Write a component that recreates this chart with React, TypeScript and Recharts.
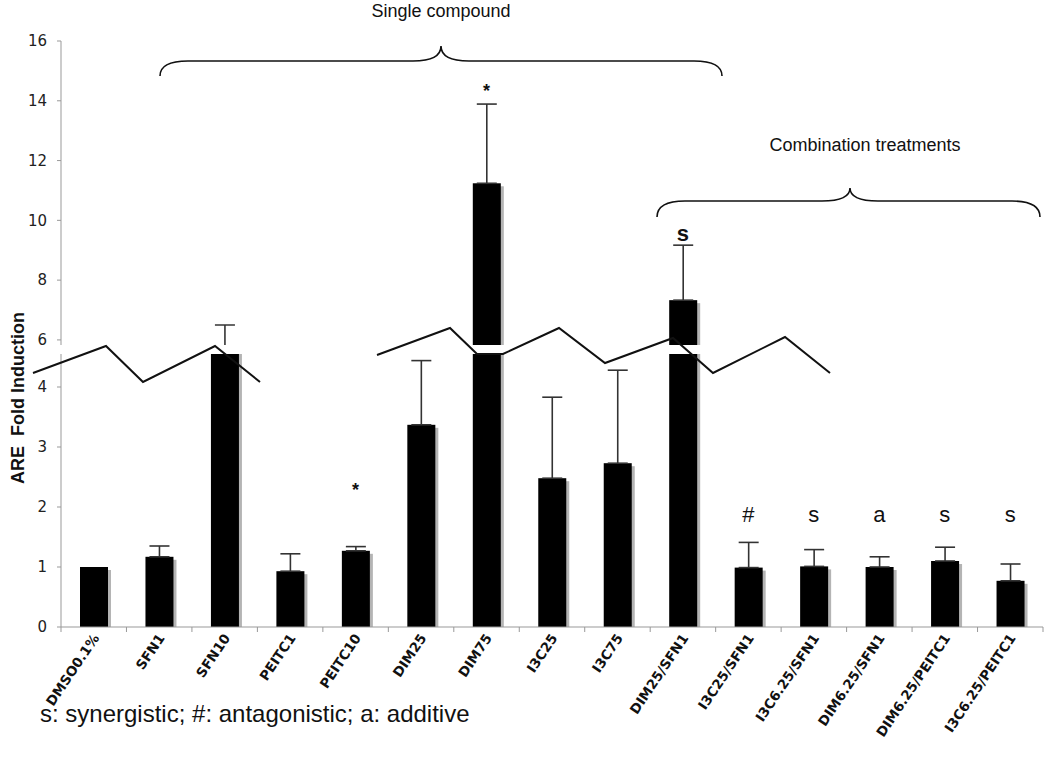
import React from 'react';
import { BarChart, Bar, XAxis, YAxis, ErrorBar, ReferenceDot } from 'recharts';

const categories = [
  'DMSO0.1%', 'SFN1', 'SFN10', 'PEITC1', 'PEITC10', 'DIM25', 'DIM75', 'I3C25', 'I3C75',
  'DIM25/SFN1', 'I3C25/SFN1', 'I3C6.25/SFN1', 'DIM6.25/SFN1', 'DIM6.25/PEITC1', 'I3C6.25/PEITC1',
];
const means = [1.0, 1.17, 5.5, 0.93, 1.27, 3.37, 11.24, 2.48, 2.73, 7.33, 0.99, 1.01, 1.0, 1.1, 0.77];
const errTops = [1.0, 1.35, 6.5, 1.22, 1.34, 4.44, 13.89, 3.83, 4.28, 9.17, 1.41, 1.29, 1.17, 1.33, 1.05];
const marks = ['', '', '', '', '*', '', '*', '', '', 's', '#', 's', 'a', 's', 's'];
const markLevels = [0, 0, 0, 0, 2.28, 0, 14.33, 0, 0, 9.57, 1.88, 1.88, 1.88, 1.88, 1.88];

const lowerTicks = [0, 1, 2, 3, 4];
const upperTicks = [6, 8, 10, 12, 14, 16];
const lowerDomain = [0, 4.55];
const upperDomain = [5.83, 16];

const W = 1050;
const H = 757;
const PLOT_LEFT = 61;
const PLOT_RIGHT = 1043;
const STEP = (PLOT_RIGHT - PLOT_LEFT) / categories.length;

const rows = categories.map((name, i) => ({
  name,
  mean: means[i],
  err: errTops[i] > means[i] ? [0, errTops[i] - means[i]] : undefined,
}));

const ShadowBar = (props: any) => {
  const { x, y, width, height } = props;
  if (!height || height <= 0) return null;
  return (
    <g>
      <rect x={x + width - 1} y={y + 3} width={4} height={Math.max(height - 3, 0)} fill="#b4b4b4" />
      <rect x={x} y={y} width={width} height={height} fill="#000" />
    </g>
  );
};

const CategoryTick = (props: any) => {
  const { x, y, payload, index } = props;
  const left = x - STEP / 2;
  return (
    <g>
      <line x1={left} y1={y} x2={left} y2={y + 5} stroke="#999" />
      {index === categories.length - 1 && (
        <line x1={x + STEP / 2} y1={y} x2={x + STEP / 2} y2={y + 5} stroke="#999" />
      )}
      <text
        transform={`translate(${x + 6},${y + 11}) rotate(-56)`}
        textAnchor="end"
        fontFamily="DejaVu Sans"
        fontWeight="bold"
        fontSize={13.5}
        fill="#111"
      >
        {payload.value}
      </text>
    </g>
  );
};

const MarkText = (props: any) => (
  <text
    x={props.cx}
    y={props.cy}
    textAnchor="middle"
    dominantBaseline="central"
    fontFamily="Liberation Sans"
    fontWeight={props.bold ? 'bold' : 'normal'}
    fontSize={props.mark === '*' ? 18 : 22}
    fill="#111"
  >
    {props.mark}
  </text>
);

const yTick = { fontFamily: 'DejaVu Sans', fontSize: 15, fill: '#222' };

const renderMarks = (upper: boolean) =>
  categories.map((c, i) => {
    if (!marks[i]) return null;
    if (upper !== markLevels[i] > upperDomain[0]) return null;
    return (
      <ReferenceDot
        key={c}
        x={c}
        y={markLevels[i]}
        r={0}
        ifOverflow="visible"
        shape={(p: any) => <MarkText {...p} mark={marks[i]} bold={upper || marks[i] === '*'} />}
      />
    );
  });

const brace = (x1: number, x2: number, tip: number, yh: number, yTip: number, yEnd: number) => {
  const r = 28;
  return `M${x1},${yEnd} Q${x1},${yh} ${x1 + r},${yh} L${tip - r},${yh} Q${tip},${yh} ${tip},${yTip} Q${tip},${yh} ${tip + r},${yh} L${x2 - r},${yh} Q${x2},${yh} ${x2},${yEnd}`;
};

const zigLeft = '33,373 106,346 143,382 215,346 260,382';
const zigRight = '377,355 450,328 477,354 503,354 559,328 605,363 673,338 713,373 785,337 830,373';

// upper panel is cut at y=345 over the plot, but its tick labels may run a little lower
const upperClip = 'polygon(0 0, 1050px 0, 1050px 345px, 58px 345px, 58px 362px, 0 362px)';

export default function App() {
  return (
    <div style={{ position: 'absolute', left: 0, top: 0, width: W, height: H, background: '#fff' }}>
      {/* lower panel: 0..4.5, clipped at its top so tall bars and their error bars stop at the break */}
      <div style={{ position: 'absolute', left: 0, top: 0, clipPath: 'inset(353px 0 0 0)' }}>
        <BarChart
          width={W}
          height={H}
          data={rows}
          margin={{ top: 354, right: W - PLOT_RIGHT, bottom: 20, left: PLOT_LEFT - 50 }}
        >
          <XAxis
            dataKey="name"
            height={H - 20 - 627}
            axisLine={{ stroke: '#999' }}
            tickLine={false}
            tickSize={0}
            tickMargin={0}
            interval={0}
            tick={<CategoryTick />}
          />
          <YAxis
            width={50}
            type="number"
            domain={lowerDomain}
            ticks={lowerTicks}
            interval={0}
            allowDataOverflow
            axisLine={{ stroke: '#999' }}
            tickLine={{ stroke: '#999' }}
            tickSize={4}
            tickMargin={10}
            tick={yTick}
          />
          <Bar dataKey="mean" barSize={28} shape={<ShadowBar />} isAnimationActive={false}>
            <ErrorBar dataKey="err" direction="y" width={10} stroke="#333" strokeWidth={1.6} />
          </Bar>
          {renderMarks(false)}
        </BarChart>
      </div>

      {/* upper panel: 6..16 */}
      <div style={{ position: 'absolute', left: 0, top: 0, clipPath: upperClip }}>
        <BarChart
          width={W}
          height={380}
          data={rows}
          margin={{ top: 41, right: W - PLOT_RIGHT, bottom: 35, left: PLOT_LEFT - 50 }}
        >
          <XAxis dataKey="name" hide height={0} />
          <YAxis
            width={50}
            type="number"
            domain={upperDomain}
            ticks={upperTicks}
            interval={0}
            allowDataOverflow
            axisLine={{ stroke: '#999' }}
            tickLine={{ stroke: '#999' }}
            tickSize={4}
            tickMargin={10}
            tick={yTick}
          />
          <Bar dataKey="mean" barSize={28} shape={<ShadowBar />} isAnimationActive={false}>
            <ErrorBar dataKey="err" direction="y" width={10} stroke="#333" strokeWidth={1.6} />
          </Bar>
          {renderMarks(true)}
        </BarChart>
      </div>

      {/* annotations */}
      <svg width={W} height={H} style={{ position: 'absolute', left: 0, top: 0, pointerEvents: 'none' }}>
        <polyline points={zigLeft} fill="none" stroke="#111" strokeWidth={2} />
        <polyline points={zigRight} fill="none" stroke="#111" strokeWidth={2} />
        <path d={brace(160, 722, 441, 61, 46, 76)} fill="none" stroke="#111" strokeWidth={1.6} />
        <path d={brace(657, 1040, 850, 201, 188, 217)} fill="none" stroke="#111" strokeWidth={1.6} />
        <text x={441} y={17} textAnchor="middle" fontFamily="Liberation Sans" fontSize={18} fill="#111">
          Single compound
        </text>
        <text x={865} y={151} textAnchor="middle" fontFamily="Liberation Sans" fontSize={18} fill="#111">
          Combination treatments
        </text>
        <text
          transform="translate(24,398) rotate(-90)"
          textAnchor="middle"
          fontFamily="Liberation Sans"
          fontWeight="bold"
          fontSize={18}
          fill="#111"
          style={{ whiteSpace: 'pre' }}
        >
          {'ARE  Fold Induction'}
        </text>
        <text x={40} y={722} fontFamily="Liberation Sans" fontSize={24} fill="#111">
          s: synergistic; #: antagonistic; a: additive
        </text>
      </svg>
    </div>
  );
}
